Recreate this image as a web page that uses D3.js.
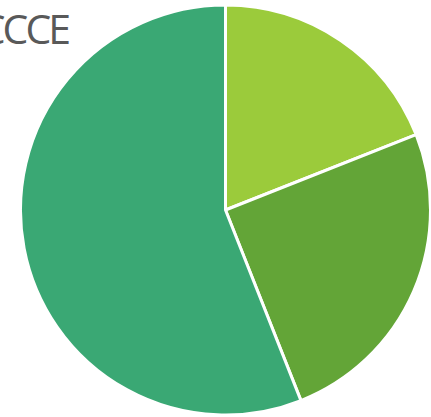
<!DOCTYPE html>
<html>
<head>
<meta charset="utf-8">
<script src="https://cdn.jsdelivr.net/npm/d3@7/dist/d3.min.js"></script>
<style>
  html, body { margin: 0; padding: 0; background: #ffffff; overflow: hidden; }
  svg { display: block; }
</style>
</head>
<body>
<script>
// Share of each segment, clockwise from 12 o'clock
const categories = ["A", "B", "C"];
const values = [19, 25, 56];
const colors = ["#9bcb3b", "#63a537", "#3aa874"];
const titleText = "CCCE";

const width = 431, height = 417;
const cx = 225.5, cy = 210, radius = 205;

const svg = d3.select("body").append("svg")
  .attr("width", width)
  .attr("height", height);

const pie = d3.pie().sort(null).value(d => d.value);
const arc = d3.arc().innerRadius(0).outerRadius(radius);

const data = categories.map((c, i) => ({ category: c, value: values[i], color: colors[i] }));

svg.append("g")
  .attr("transform", `translate(${cx},${cy})`)
  .selectAll("path")
  .data(pie(data))
  .join("path")
  .attr("d", arc)
  .attr("fill", d => d.data.color)
  .attr("stroke", "#ffffff")
  .attr("stroke-width", 3)
  .attr("stroke-linejoin", "round");

svg.append("text")
  .attr("x", 68)
  .attr("y", 44)
  .attr("text-anchor", "end")
  .attr("font-family", "'Open Sans', sans-serif")
  .attr("font-size", 41)
  .attr("letter-spacing", -3)
  .attr("fill", "#595959")
  .text(titleText);
</script>
</body>
</html>
